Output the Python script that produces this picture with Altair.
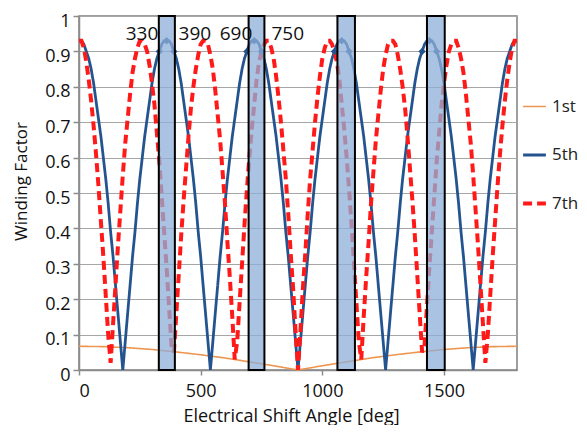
import altair as alt
import pandas as pd

# ---------------- data ----------------
SERIES = ["1st", "5th", "7th"]
COLORS = ["#EE9550", "#24548F", "#FF1A1A"]

ANGLE = list(range(0, 1810, 10))  # electrical shift angle grid [deg]

ANGLE_1ST = [0, 100, 200, 300, 400, 500, 600, 700, 800, 900,
             1000, 1100, 1200, 1300, 1400, 1500, 1600, 1700, 1800]
FIRST = [.067, .066, .063, .058, .051, .043, .034, .023, .012, 0,
         .012, .023, .034, .043, .051, .058, .063, .066, .067]

FIFTH = [
    .93, .93, .92, .90, .88, .85, .81, .76, .71, .66, .60, .54, .47, .39, .32, .24, .16, .08, 0,
    .08, .16, .24, .32, .39, .47, .54, .60, .66, .71, .76, .81, .85, .88, .90, .92, .93,
    .93, .93, .92, .90, .88, .85, .81, .76, .71, .66, .60, .54, .47, .39, .32, .24, .16, .08, 0,
    .08, .16, .24, .32, .39, .47, .54, .60, .66, .71, .76, .81, .85, .88, .90, .92, .93,
    .93, .93, .92, .90, .88, .85, .81, .76, .71, .66, .60, .54, .47, .39, .32, .24, .16, .08, 0,
    .08, .16, .24, .32, .39, .47, .54, .60, .66, .71, .76, .81, .85, .88, .90, .92, .93,
    .93, .93, .92, .90, .88, .85, .81, .76, .71, .66, .60, .54, .47, .39, .32, .24, .16, .08, 0,
    .08, .16, .24, .32, .39, .47, .54, .60, .66, .71, .76, .81, .85, .88, .90, .92, .93,
    .93, .93, .92, .90, .88, .85, .81, .76, .71, .66, .60, .54, .47, .39, .32, .24, .16, .08, 0,
    .08, .16, .24, .32, .39, .47, .54, .60, .66, .71, .76, .81, .85, .88, .90, .92, .93,
    .93,
]

SEVENTH = [
    .93, .93, .91, .87, .82, .76, .69, .61, .52, .42, .32, .21, .10,
    .02, .13, .24, .35, .45, .55, .64, .71, .78, .84, .88, .91, .93,
    .93, .92, .90, .86, .81, .75, .67, .59, .49, .39, .29, .18, .07,
    .05, .16, .27, .38, .48, .57, .66, .74, .80, .85, .89, .92, .93,
    .93, .92, .89, .85, .79, .72, .65, .56, .47, .36, .26, .15, .03,
    .08, .19, .30, .41, .51, .60, .68, .75, .82, .87, .90, .92, .93,
    .93, .91, .88, .83, .77, .70, .62, .54, .44, .33, .23, .11, 0,
    .11, .23, .33, .44, .54, .62, .70, .77, .83, .88, .91, .93,
    .93, .92, .90, .87, .82, .75, .68, .60, .51, .41, .30, .19, .08,
    .03, .15, .26, .36, .47, .56, .65, .72, .79, .85, .89, .92, .93,
    .93, .92, .89, .85, .80, .74, .66, .57, .48, .38, .27, .16, .05,
    .07, .18, .29, .39, .49, .59, .67, .75, .81, .86, .90, .92, .93,
    .93, .91, .88, .84, .78, .71, .64, .55, .45, .35, .24, .13, .02,
    .10, .21, .32, .42, .52, .61, .69, .76, .82, .87, .91, .93, .93,
]

MARK_X = [330, 360, 390, 690, 720, 750, 1050, 1080, 1110, 1410, 1440, 1470]
MARK_Y = [.90, .93, .90, .90, .93, .90, .90, .93, .90, .90, .93, .90]

BAND_START = [328, 697, 1062, 1430]
BAND_END = [394, 762, 1134, 1503]

LABEL_TEXT = ["330", "390", "690", "750"]
LABEL_X = [259, 476, 645, 858]
LABEL_Y = [0.950, 0.950, 0.950, 0.950]

Y_TICKS = [0, 0.1, 0.2, 0.3, 0.4, 0.5, 0.6, 0.7, 0.8, 0.9, 1]
X_TICKS = [0, 500, 1000, 1500]

# ---------------- tables ----------------
rows = []
for a, v in zip(ANGLE_1ST, FIRST):
    rows.append({"series": "1st", "angle": a, "value": v})
for a, v in zip(ANGLE, FIFTH):
    rows.append({"series": "5th", "angle": a, "value": v})
for a, v in zip(ANGLE, SEVENTH):
    rows.append({"series": "7th", "angle": a, "value": v})
lines_df = pd.DataFrame(rows)

marks_df = pd.DataFrame({"angle": MARK_X, "value": MARK_Y})
bands_df = pd.DataFrame({"start": BAND_START, "end": BAND_END})
labels_df = pd.DataFrame({"text": LABEL_TEXT, "angle": LABEL_X, "value": LABEL_Y})

FONT = "Open Sans"

x_scale = alt.Scale(domain=[0, 1800], nice=False, zero=False)
y_scale = alt.Scale(domain=[0, 1], nice=False)

x_axis = alt.Axis(values=X_TICKS, format="d", grid=False, title="Electrical Shift Angle [deg]",
                  tickSize=5, labelPadding=7, labelFontSize=18, labelFont=FONT,
                  titleFont=FONT, titleFontSize=18, titleFontWeight="normal",
                  titleX=212, titleY=51, titleAlign="center", titleBaseline="alphabetic")
y_axis = alt.Axis(values=Y_TICKS, format=".1~f", grid=True, title="Winding Factor",
                  tickSize=6, labelPadding=3, labelFontSize=18, labelFont=FONT,
                  labelOffset=5,
                  titleFont=FONT, titleFontSize=17, titleFontWeight="normal",
                  titleX=-58, titleY=165, titleAngle=-90, titleAlign="center",
                  titleBaseline="middle")

leg = alt.Legend(title=None, orient="none", legendX=442, legendY=78,
                 symbolType="stroke", symbolSize=520,
                 labelFontSize=17, labelFont=FONT, labelColor="#222",
                 rowPadding=27, labelOffset=4)

X = alt.X("angle:Q", scale=x_scale, axis=x_axis)
Y = alt.Y("value:Q", scale=y_scale, axis=y_axis)

lines = alt.Chart(lines_df).mark_line().encode(
    x=X,
    y=Y,
    color=alt.Color("series:N", scale=alt.Scale(domain=SERIES, range=COLORS), legend=leg),
    strokeDash=alt.StrokeDash("series:N",
                              scale=alt.Scale(domain=SERIES, range=[[1, 0], [1, 0], [9, 5]]),
                              legend=leg),
    strokeWidth=alt.StrokeWidth("series:N",
                                scale=alt.Scale(domain=SERIES, range=[1.6, 4, 2.3]),
                                legend=leg),
    order=alt.Order("angle:Q"),
)

markers = alt.Chart(marks_df).mark_point(shape="diamond", filled=True, size=55,
                                         color="#24548F", opacity=1).encode(
    x=X,
    y=Y,
)

bands = alt.Chart(bands_df).mark_rect(fill="#8FAFD8", fillOpacity=0.75,
                                      stroke="black", strokeWidth=2).encode(
    x=alt.X("start:Q", scale=x_scale, axis=x_axis),
    x2="end:Q",
    y=alt.datum(0, scale=y_scale, axis=y_axis),
    y2=alt.datum(1),
)

labels = alt.Chart(labels_df).mark_text(fontSize=19, font=FONT, color="#111",
                                        baseline="middle", align="center").encode(
    x=X,
    y=Y,
    text="text:N",
)

chart = alt.layer(lines, markers, bands, labels).properties(
    width=438, height=354,
    autosize=alt.AutoSizeParams(type="none"),
    padding={"left": 71, "top": 8, "right": 62, "bottom": 55},
    background="white",
).configure_view(
    stroke="#7F7F7F", strokeWidth=1.5
).configure_axis(
    labelColor="#111", titleColor="#111",
    domainColor="#8C8C8C", tickColor="#8C8C8C", gridColor="#A6A6A6", gridWidth=1,
    domainWidth=1.5, tickWidth=1.5,
)

chart.save("out.html", embed_options={"renderer": "svg", "actions": False})
